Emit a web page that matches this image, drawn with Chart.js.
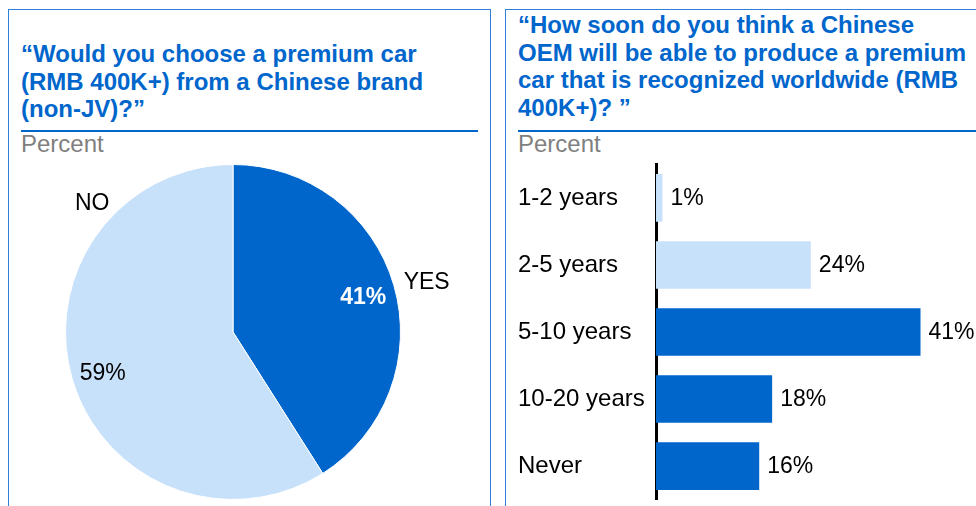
<!DOCTYPE html>
<html>
<head>
<meta charset="utf-8">
<script src="https://cdn.jsdelivr.net/npm/chart.js@4"></script>
<style>
  body { margin: 0; width: 976px; height: 506px; overflow: hidden; background: #fff; font-family: "Liberation Sans", Arial, sans-serif; }
  .panel { position: absolute; top: 9px; height: 520px; border: 1.5px solid #2f80d8; box-sizing: border-box; }
  .title { position: absolute; color: #0066cc; font-weight: bold; font-size: 24px; line-height: 27.5px; }
  .rule { position: absolute; top: 130px; height: 2px; background: #0066cc; }
  .unit { position: absolute; top: 130px; color: #7f7f7f; font-size: 24px; line-height: 28px; }
  canvas { position: absolute; top: 150px; }
</style>
</head>
<body>
<div class="panel" style="left:8px; width:483px;"></div>
<div class="panel" style="left:505px; width:490px;"></div>

<div class="title" style="left:21px; top:40px;">“Would you choose a premium car<br>(RMB 400K+) from a Chinese brand<br>(non-JV)?”</div>
<div class="rule" style="left:21px; width:457px;"></div>
<div class="unit" style="left:21px;">Percent</div>

<div class="title" style="left:518px; top:11px;">“How soon do you think a Chinese<br>OEM will be able to produce a premium<br>car that is recognized worldwide (RMB<br>400K+)? ”</div>
<div class="rule" style="left:518px; width:458px;"></div>
<div class="unit" style="left:518px;">Percent</div>

<canvas id="pie__choice" width="480" height="356" style="left:9px;"></canvas>
<canvas id="bar__howsoon" width="471" height="364" style="left:505px;"></canvas>

<script>
// Pie: would you choose a Chinese premium brand
const pieLabels = ['YES', 'NO'];
const pieValues = [41, 59];

// Bar: how soon
const barLabels = ['1-2 years', '2-5 years', '5-10 years', '10-20 years', 'Never'];
const barValues = [1, 24, 41, 18, 16];

const DARK = '#0066cc';
const LIGHT = '#c8e1fa';
const FONT = '"Liberation Sans", Arial, sans-serif';

// draws the % inside and the category name outside each slice
const pieLabelPlugin = {
    id: 'pieLabels',
    afterDatasetsDraw(chart, args, opts) {
        const ctx = chart.ctx;
        const meta = chart.getDatasetMeta(0);
        ctx.save();
        ctx.textAlign = 'center';
        ctx.textBaseline = 'middle';
        meta.data.forEach((arc, i) => {
            const p = arc.getProps(['x', 'y', 'startAngle', 'endAngle', 'outerRadius'], true);
            const mid = (p.startAngle + p.endAngle) / 2;
            const r = p.outerRadius;
            // value
            ctx.font = opts.valueFonts[i];
            ctx.fillStyle = opts.valueColors[i];
            ctx.fillText(pieValues[i] + '%', p.x + Math.cos(mid) * r * 0.81, p.y + Math.sin(mid) * r * 0.81 + 4);
            // category
            const o = opts.outer[i];
            const a = o.angle === null ? mid : o.angle * Math.PI / 180;
            ctx.font = '23px ' + FONT;
            ctx.fillStyle = '#000';
            ctx.fillText(pieLabels[i], p.x + Math.cos(a) * r * o.r, p.y + Math.sin(a) * r * o.r + 4);
        });
        ctx.restore();
    }
};

new Chart(document.getElementById('pie__choice').getContext('2d'), {
    type: 'pie',
    data: {
        labels: pieLabels,
        datasets: [{
            data: pieValues,
            backgroundColor: [DARK, LIGHT],
            borderColor: '#fff',
            borderWidth: 1
        }]
    },
    options: {
        responsive: false,
        animation: false,
        layout: { padding: { left: 56, right: 88, top: 14, bottom: 6 } },
        plugins: {
            legend: { display: false },
            tooltip: { enabled: false },
            pieLabels: {
                valueFonts: ['bold 23px ' + FONT, '23px ' + FONT],
                valueColors: ['#fff', '#000'],
                outer: [{ angle: -15.5, r: 1.2 }, { angle: 223.3, r: 1.155 }]
            }
        }
    },
    plugins: [pieLabelPlugin]
});

// value labels at the end of each bar
const barValuePlugin = {
    id: 'barValues',
    afterDatasetsDraw(chart) {
        const ctx = chart.ctx;
        const meta = chart.getDatasetMeta(0);
        ctx.save();
        ctx.font = '23px ' + FONT;
        ctx.fillStyle = '#000';
        ctx.textAlign = 'left';
        ctx.textBaseline = 'middle';
        meta.data.forEach((bar, i) => {
            ctx.fillText(barValues[i] + '%', bar.x + 8, bar.y + 1);
        });
        ctx.restore();
    }
};

new Chart(document.getElementById('bar__howsoon').getContext('2d'), {
    type: 'bar',
    data: {
        labels: barLabels,
        datasets: [{
            data: barValues,
            backgroundColor: [LIGHT, LIGHT, DARK, DARK, DARK],
            barPercentage: 0.71,
            categoryPercentage: 1
        }]
    },
    options: {
        indexAxis: 'y',
        responsive: false,
        animation: false,
        layout: { padding: { left: 13, right: 0, top: 12, bottom: 6 } },
        plugins: {
            legend: { display: false },
            tooltip: { enabled: false }
        },
        scales: {
            x: { display: false, min: 0, max: 49.6 },
            y: {
                grid: { display: false },
                border: { display: true, color: '#000', width: 3 },
                ticks: { color: '#000', font: { size: 24, family: FONT }, crossAlign: 'far', padding: 0 },
                afterFit(scale) { scale.width = 138; }
            }
        }
    },
    plugins: [barValuePlugin]
});
</script>
</body>
</html>
